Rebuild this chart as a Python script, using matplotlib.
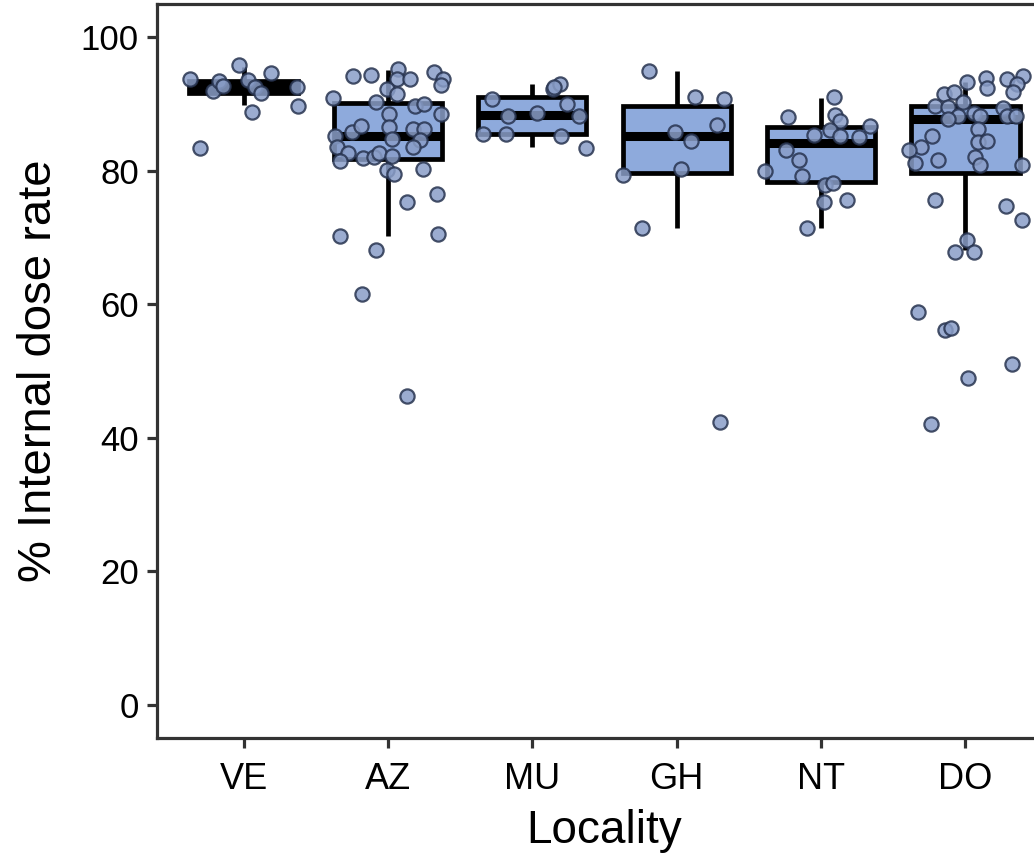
import numpy as np
import matplotlib
matplotlib.use("Agg")
import matplotlib.pyplot as plt

plt.rcParams['font.family'] = ['Liberation Sans', 'DejaVu Sans']

localities = ["VE", "AZ", "MU", "GH", "NT", "DO"]

# box summaries: whisker low, Q1, median, Q3, whisker high
whisker_lo = [89.8, 70.2, 83.5, 71.4, 71.4, 68.2]
q1 = [91.7, 81.7, 85.5, 79.6, 78.3, 79.6]
median = [92.5, 85.2, 88.3, 85.2, 84.1, 87.7]
q3 = [93.4, 90.1, 91.0, 89.7, 86.5, 89.7]
whisker_hi = [95.5, 95.1, 93.0, 94.9, 90.9, 93.3]

# individual samples (% internal dose rate) and their horizontal jitter
ve_vals = [93.7, 83.4, 91.9, 93.4, 92.7, 95.8, 93.6, 88.8, 92.5, 91.6, 94.6, 92.5, 89.7]
ve_jit = [-0.37, -0.30, -0.21, -0.17, -0.14, -0.03, 0.03, 0.06, 0.08, 0.12, 0.19, 0.37, 0.38]

az_vals = [90.9, 94.2, 94.3, 95.3, 93.7, 93.7, 92.2, 91.5, 94.8, 93.7, 92.8, 90.3,
           88.5, 89.7, 90.0, 88.5, 85.2, 85.8, 86.7, 86.5, 84.7, 86.2, 86.2, 84.6,
           83.5, 83.5, 82.7, 81.4, 81.9, 82.0, 82.7, 82.2, 80.1, 79.5, 80.2, 76.5,
           75.3, 70.2, 70.5, 68.2, 61.6, 46.3]
az_jit = [-0.38, -0.24, -0.12, 0.07, 0.06, 0.15, -0.01, 0.06, 0.32, 0.38, 0.37, -0.08,
          0.01, 0.19, 0.25, 0.37, -0.37, -0.25, -0.19, 0.01, 0.03, 0.17, 0.25, 0.22,
          0.17, -0.35, -0.28, -0.33, -0.17, -0.10, -0.06, 0.03, -0.01, 0.04, 0.24, 0.34,
          0.13, -0.33, 0.35, -0.08, -0.18, 0.13]

mu_vals = [90.7, 85.5, 85.5, 88.2, 88.6, 92.2, 93.0, 92.5, 90.0, 85.2, 88.2, 83.4]
mu_jit = [-0.28, -0.34, -0.18, -0.17, 0.03, 0.14, 0.19, 0.15, 0.24, 0.20, 0.32, 0.37]

gh_vals = [94.9, 91.0, 90.7, 86.8, 85.8, 84.4, 80.2, 79.3, 71.4, 42.3]
gh_jit = [-0.19, 0.13, 0.33, 0.28, -0.01, 0.10, 0.03, -0.37, -0.24, 0.30]

nt_vals = [91.0, 88.0, 88.3, 87.4, 86.7, 85.3, 86.1, 85.2, 85.0, 83.1, 81.6, 79.9,
           79.2, 77.8, 78.1, 75.3, 75.7, 71.4]
nt_jit = [0.09, -0.23, 0.10, 0.13, 0.34, -0.05, 0.06, 0.13, 0.26, -0.24, -0.15, -0.39,
          -0.13, 0.03, 0.08, 0.02, 0.18, -0.10]

do_vals = [91.5, 91.8, 93.3, 93.9, 92.4, 93.7, 94.2, 93.0, 91.8, 89.7, 89.5, 90.3,
           88.2, 87.7, 88.6, 88.2, 89.4, 88.2, 88.2, 85.2, 86.2, 84.3, 84.4, 83.5,
           83.1, 81.1, 81.6, 82.0, 80.8, 80.8, 75.7, 74.8, 72.7, 69.7, 67.9, 67.9,
           58.9, 56.1, 56.4, 51.1, 48.9, 42.1]
do_jit = [-0.15, -0.08, 0.01, 0.14, 0.15, 0.29, 0.40, 0.36, 0.33, -0.21, -0.12, -0.02,
          -0.05, -0.12, 0.06, 0.10, 0.26, 0.29, 0.35, -0.23, 0.09, 0.09, 0.15, -0.31,
          -0.39, -0.35, -0.19, 0.07, 0.10, 0.39, -0.21, 0.28, 0.39, 0.01, -0.07, 0.06,
          -0.33, -0.14, -0.10, 0.32, 0.02, -0.24]

samples = [(ve_vals, ve_jit), (az_vals, az_jit), (mu_vals, mu_jit),
           (gh_vals, gh_jit), (nt_vals, nt_jit), (do_vals, do_jit)]

box_fill = "#8eaadc"
pt_fill = "#8a9ec8"
pt_edge = "#27334f"
axis_col = "#333333"

fig = plt.figure(figsize=(10.34, 8.59), dpi=100)
ax = fig.add_axes([157 / 1034, 1 - 738 / 859, (1052 - 157) / 1034, (738 - 4) / 859])

stats = []
for i in range(len(localities)):
    stats.append({"whislo": whisker_lo[i], "q1": q1[i], "med": median[i],
                  "q3": q3[i], "whishi": whisker_hi[i], "fliers": []})

pos = np.arange(len(localities))
ax.bxp(stats, positions=pos, widths=0.75, patch_artist=True, showcaps=False,
       showfliers=False,
       boxprops=dict(facecolor=box_fill, edgecolor="black", linewidth=3.4),
       medianprops=dict(color="black", linewidth=6.5, solid_capstyle="butt"),
       whiskerprops=dict(color="black", linewidth=3.4, solid_capstyle="butt"),
       zorder=2)

for i, (vals, jit) in enumerate(samples):
    x = i + np.array(jit)
    ax.scatter(x, vals, s=105, facecolor=pt_fill, edgecolor=pt_edge,
               linewidth=1.6, alpha=0.85, zorder=3)

ax.set_xlim(-0.6, len(localities) - 0.4)
ax.set_ylim(-5, 105)
ax.set_xticks(pos)
ax.set_xticklabels(localities)
ax.set_yticks([0, 20, 40, 60, 80, 100])

for side in ["left", "bottom", "top", "right"]:
    ax.spines[side].set_color(axis_col)
    ax.spines[side].set_linewidth(2.3)

ax.tick_params(axis="both", colors=axis_col, width=2.3, length=7, labelsize=25,
               labelcolor="black", pad=6)
ax.tick_params(axis="x", labelsize=26, pad=10)

ax.set_xlabel("Locality", fontsize=33, labelpad=9)
ax.set_ylabel("% Internal dose rate", fontsize=34, labelpad=14)

fig.savefig("out.png", dpi=100)
